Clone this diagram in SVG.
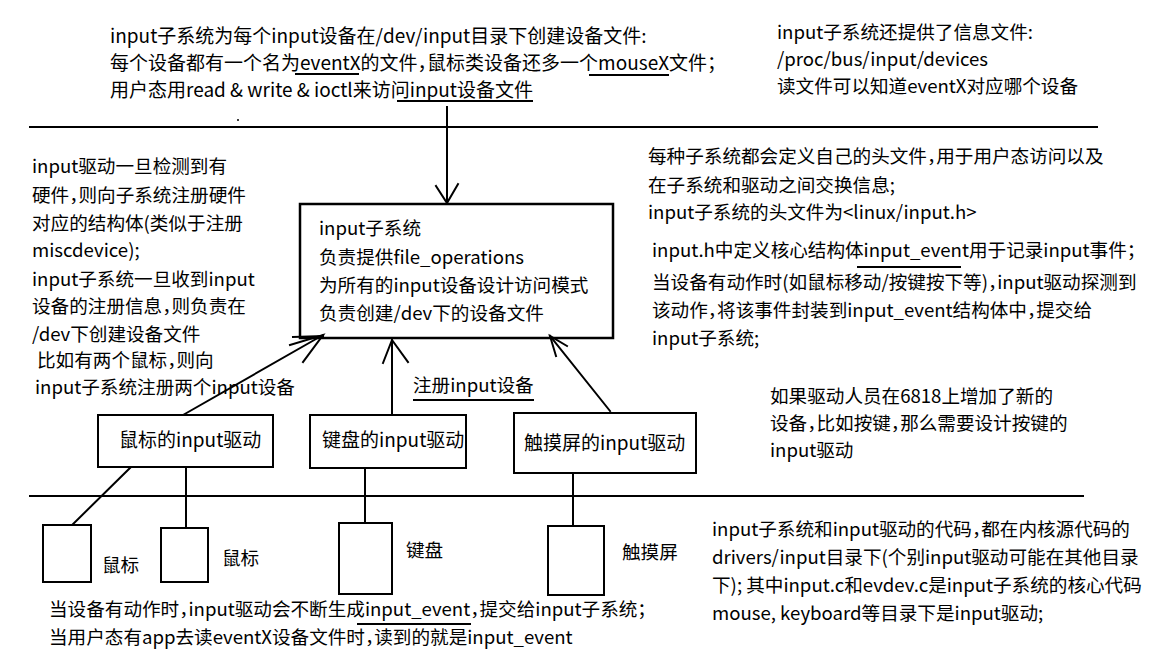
<svg xmlns="http://www.w3.org/2000/svg" width="1172" height="660" viewBox="0 0 1172 660">
<style>
.t{font-family:"Noto Sans CJK SC","Noto Sans",sans-serif;font-size:18.6px;fill:#000;font-feature-settings:"halt" 1}
.t19{font-size:19px}
.ln{stroke:#000;stroke-width:2;fill:none;stroke-linecap:square}
.bx{fill:#fff;stroke:#000;stroke-width:2.5}
.sb{fill:#fff;stroke:#000;stroke-width:2}
</style>
<rect width="1172" height="660" fill="#fff"/>

<g id="rules">
<line class="ln" x1="30" y1="127" x2="1097" y2="127"/>
<line class="ln" x1="30" y1="496" x2="1083" y2="496"/>
<circle cx="238" cy="120" r="1" fill="#000"/>
</g>

<g id="note-top">
<text class="t t19" x="110" y="43">input子系统为每个input设备在/dev/input目录下创建设备文件:</text>
<text class="t t19" x="110" y="70">每个设备都有一个名为eventX的文件，鼠标类设备还多一个mouseX文件；</text>
<text class="t t19" x="110" y="97">用户态用read &amp; write &amp; ioctl来访问input设备文件</text>
<line class="ln" x1="296" y1="74" x2="358" y2="74"/>
<line class="ln" x1="590" y1="75" x2="668" y2="75"/>
<line class="ln" x1="398" y1="101" x2="532" y2="101"/>
</g>

<g id="note-top-right">
<text class="t" x="777" y="39">input子系统还提供了信息文件:</text>
<text class="t" x="777" y="66">/proc/bus/input/devices</text>
<text class="t" x="777" y="93">读文件可以知道eventX对应哪个设备</text>
</g>

<g id="note-left">
<text class="t" x="32" y="173">input驱动一旦检测到有</text>
<text class="t" x="32" y="202">硬件，则向子系统注册硬件</text>
<text class="t" x="32" y="230">对应的结构体(类似于注册</text>
<text class="t" x="32" y="257">miscdevice);</text>
<text class="t" x="32" y="286">input子系统一旦收到input</text>
<text class="t" x="32" y="313">设备的注册信息，则负责在</text>
<text class="t" x="32" y="341">/dev下创建设备文件</text>
<text class="t" x="37" y="367">比如有两个鼠标，则向</text>
<text class="t" x="35" y="394">input子系统注册两个input设备</text>
</g>

<g id="input-subsystem">
<rect class="bx" x="300" y="204" width="313" height="134"/>
<text class="t" x="319" y="235">input子系统</text>
<text class="t" x="319" y="264">负责提供file_operations</text>
<text class="t" x="319" y="292">为所有的input设备设计访问模式</text>
<text class="t" x="319" y="320">负责创建/dev下的设备文件</text>
</g>

<g id="note-right">
<text class="t" x="648" y="163">每种子系统都会定义自己的头文件，用于用户态访问以及</text>
<text class="t" x="648" y="192">在子系统和驱动之间交换信息;</text>
<text class="t" x="648" y="219">input子系统的头文件为&lt;linux/input.h&gt;</text>
<text class="t" x="652" y="257">input.h中定义核心结构体input_event用于记录input事件；</text>
<text class="t" x="652" y="289">当设备有动作时(如鼠标移动/按键按下等)，input驱动探测到</text>
<text class="t" x="652" y="317">该动作，将该事件封装到input_event结构体中，提交给</text>
<text class="t" x="652" y="345">input子系统;</text>
<line class="ln" x1="858" y1="267" x2="960" y2="267"/>
</g>

<g id="note-6818">
<text class="t" x="770" y="403">如果驱动人员在6818上增加了新的</text>
<text class="t" x="770" y="430">设备，比如按键，那么需要设计按键的</text>
<text class="t" x="770" y="457">input驱动</text>
</g>

<g id="label-register">
<text class="t" x="413" y="392">注册input设备</text>
<line class="ln" x1="414" y1="400" x2="533" y2="400"/>
</g>

<g id="connectors">
<line class="ln" x1="447" y1="107" x2="447" y2="203"/>
<polyline class="ln" points="436,186 447,203 458,184"/>
<line class="ln" x1="183" y1="415" x2="323" y2="335"/>
<line class="ln" x1="293" y1="337" x2="323" y2="336"/>
<polyline class="ln" points="290,345 323,335 303,362"/>
<line class="ln" x1="392" y1="415" x2="392" y2="340"/>
<polyline class="ln" points="383,363 392,340 408,362"/>
<line class="ln" x1="610" y1="411" x2="550" y2="336"/>
<polyline class="ln" points="556,356 550,336 567,346"/>
<line class="ln" x1="131" y1="467" x2="68" y2="529"/>
<line class="ln" x1="186" y1="467" x2="186" y2="533"/>
<line class="ln" x1="365" y1="468" x2="365" y2="525"/>
<line class="ln" x1="573" y1="473" x2="573" y2="526"/>
</g>

<g id="mouse-driver">
<rect class="sb" x="98" y="415" width="175" height="52"/>
<text class="t t19" x="119" y="447">鼠标的input驱动</text>
</g>
<g id="keyboard-driver">
<rect class="sb" x="310" y="415" width="156" height="53"/>
<text class="t t19" x="322" y="447">键盘的input驱动</text>
</g>
<g id="touch-driver">
<rect class="sb" x="514" y="413" width="182" height="60"/>
<text class="t t19" x="524" y="450">触摸屏的input驱动</text>
</g>

<g id="mouse1">
<rect class="sb" x="43" y="525" width="48" height="57" fill="none"/>
<text class="t" x="102" y="572">鼠标</text>
</g>
<g id="mouse2">
<rect class="sb" x="161" y="528" width="47" height="54" fill="none"/>
<text class="t" x="222" y="565">鼠标</text>
</g>
<g id="keyboard">
<rect class="sb" x="339" y="523" width="53" height="71" fill="none"/>
<text class="t" x="406" y="557">键盘</text>
</g>
<g id="touchscreen">
<rect class="sb" x="548" y="526" width="56" height="69" fill="none"/>
<text class="t" x="622" y="559">触摸屏</text>
</g>

<g id="note-bottom">
<text class="t" x="49" y="616">当设备有动作时，input驱动会不断生成input_event，提交给input子系统；</text>
<text class="t" x="49" y="644">当用户态有app去读eventX设备文件时，读到的就是input_event</text>
<line class="ln" x1="358" y1="624" x2="470" y2="624"/>
</g>

<g id="note-bottom-right">
<text class="t" x="712" y="536">input子系统和input驱动的代码，都在内核源代码的</text>
<text class="t" x="712" y="564">drivers/input目录下(个别input驱动可能在其他目录</text>
<text class="t" x="712" y="592">下); 其中input.c和evdev.c是input子系统的核心代码</text>
<text class="t" x="712" y="620">mouse, keyboard等目录下是input驱动;</text>
</g>
</svg>
